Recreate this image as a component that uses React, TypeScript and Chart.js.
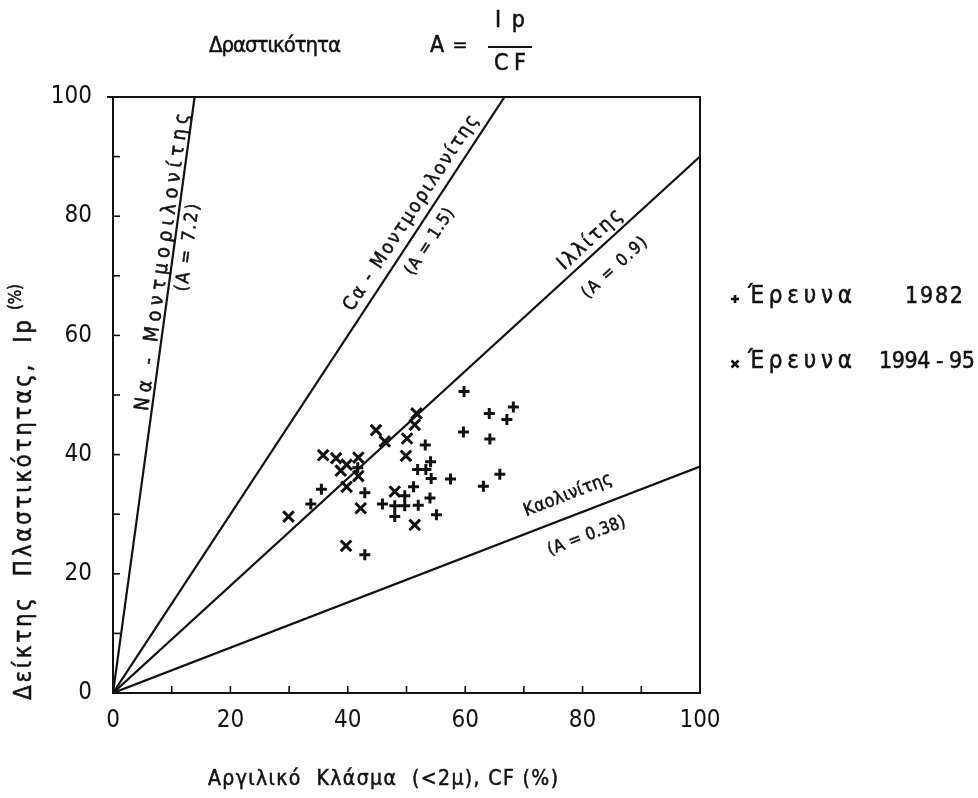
import React, { useEffect, useRef } from "react";
import { Chart, registerables } from "chart.js";

Chart.register(...registerables);

// ---- data ----
const tickValues = [0, 20, 40, 60, 80, 100];
const minorTickValues = [10, 20, 30, 40, 50, 60, 70, 80, 90];

const survey1982 = [
  { x: 59.8, y: 50.6 }, { x: 64.1, y: 46.9 }, { x: 68.2, y: 48.0 }, { x: 67.1, y: 45.9 },
  { x: 59.7, y: 43.8 }, { x: 64.2, y: 42.6 }, { x: 53.2, y: 41.6 }, { x: 54.1, y: 38.8 },
  { x: 51.9, y: 37.5 }, { x: 53.3, y: 37.5 }, { x: 54.2, y: 36.0 }, { x: 57.5, y: 35.9 },
  { x: 65.9, y: 36.7 }, { x: 63.1, y: 34.7 }, { x: 41.7, y: 37.8 }, { x: 35.5, y: 34.2 },
  { x: 33.7, y: 31.7 }, { x: 42.9, y: 33.6 }, { x: 45.9, y: 31.7 }, { x: 49.7, y: 33.1 },
  { x: 51.2, y: 34.6 }, { x: 48.0, y: 31.4 }, { x: 49.7, y: 31.4 }, { x: 52.0, y: 31.5 },
  { x: 48.0, y: 29.6 }, { x: 54.0, y: 32.7 }, { x: 55.1, y: 29.9 }, { x: 42.9, y: 23.2 },
];

const survey1994 = [
  { x: 51.7, y: 46.9 }, { x: 51.4, y: 45.0 }, { x: 44.8, y: 44.1 }, { x: 46.3, y: 42.2 },
  { x: 50.1, y: 42.7 }, { x: 49.9, y: 39.8 }, { x: 35.8, y: 39.9 }, { x: 38.0, y: 39.4 },
  { x: 39.8, y: 38.3 }, { x: 41.8, y: 39.5 }, { x: 38.8, y: 37.3 }, { x: 41.8, y: 36.4 },
  { x: 39.8, y: 34.6 }, { x: 29.9, y: 29.6 }, { x: 42.2, y: 31.0 }, { x: 48.0, y: 33.8 },
  { x: 39.7, y: 24.7 }, { x: 51.4, y: 28.2 },
];

// activity lines Ip = A * CF (end points)
const naLine = [{ x: 0, y: 0 }, { x: 13.9, y: 100 }];
const caLine = [{ x: 0, y: 0 }, { x: 66.7, y: 100 }];
const illiteLine = [{ x: 0, y: 0 }, { x: 100, y: 90 }];
const kaoliniteLine = [{ x: 0, y: 0 }, { x: 100, y: 38 }];

const lineLabels = [
  { line: naLine, text: "Να - Μοντμοριλονίτης", at: { x: 8.5, y: 72.3 }, len: 300, size: 20 },
  { line: naLine, text: "(A = 7.2)", at: { x: 12.8, y: 74.7 }, len: 88, size: 18 },
  { line: caLine, text: "Cα - Μοντμοριλονίτης", at: { x: 50.8, y: 80.5 }, len: 230, size: 19 },
  { line: caLine, text: "(A = 1.5)", at: { x: 54.0, y: 75.7 }, len: 76, size: 17 },
  { line: illiteLine, text: "Ιλλίτης", at: { x: 81.3, y: 76.0 }, len: 80, size: 20 },
  { line: illiteLine, text: "(A = 0.9)", at: { x: 85.5, y: 71.3 }, len: 82, size: 17 },
  { line: kaoliniteLine, text: "Καολινίτης", at: { x: 77.5, y: 33.2 }, len: 93, size: 18 },
  { line: kaoliniteLine, text: "(A = 0.38)", at: { x: 80.7, y: 26.3 }, len: 82, size: 17 },
];

const legendItems = [
  { marker: "cross", label: "Έρευνα", year: "1982" },
  { marker: "crossRot", label: "Έρευνα", year: "1994 - 95" },
];

const FONT = "'DejaVu Sans Condensed', 'DejaVu Sans', sans-serif";
const INK = "#111";

function drawFit(ctx: CanvasRenderingContext2D, text: string, cx: number, cy: number, angle: number, size: number, target: number) {
  ctx.save();
  ctx.font = `${size}px ${FONT}`;
  (ctx as any).letterSpacing = "0px";
  const w = ctx.measureText(text).width;
  const n = Math.max(1, text.length - 1);
  let ls = (target - w) / n;
  if (ls < -1.5) ls = -1.5;
  (ctx as any).letterSpacing = `${ls}px`;
  const w2 = ctx.measureText(text).width;
  ctx.translate(cx, cy);
  ctx.rotate(angle);
  ctx.textAlign = "left";
  ctx.textBaseline = "middle";
  ctx.fillStyle = INK;
  ctx.strokeStyle = INK;
  ctx.lineWidth = 0.5;
  ctx.fillText(text, -w2 / 2 + ls / 2, 0);
  ctx.strokeText(text, -w2 / 2 + ls / 2, 0);
  ctx.restore();
}

function drawMarker(ctx: CanvasRenderingContext2D, kind: string, x: number, y: number, r: number) {
  ctx.beginPath();
  if (kind === "cross") {
    ctx.moveTo(x - r, y); ctx.lineTo(x + r, y);
    ctx.moveTo(x, y - r); ctx.lineTo(x, y + r);
  } else {
    ctx.moveTo(x - r, y - r); ctx.lineTo(x + r, y + r);
    ctx.moveTo(x - r, y + r); ctx.lineTo(x + r, y - r);
  }
  ctx.stroke();
}

const decorPlugin = {
  id: "decor",
  afterDraw(chart: any) {
    const { ctx, chartArea: a } = chart;
    const xs = chart.scales.x;
    const ys = chart.scales.y;
    ctx.save();
    ctx.strokeStyle = INK;
    ctx.lineWidth = 2;
    ctx.strokeRect(a.left, a.top, a.right - a.left, a.bottom - a.top);
    ctx.beginPath(); ctx.moveTo(a.left - 6, a.top); ctx.lineTo(a.left, a.top); ctx.stroke();
    ctx.lineWidth = 1.6;
    for (const v of minorTickValues) {
      const px = xs.getPixelForValue(v);
      ctx.beginPath(); ctx.moveTo(px, a.bottom); ctx.lineTo(px, a.bottom - 7); ctx.stroke();
      const py = ys.getPixelForValue(v);
      ctx.beginPath(); ctx.moveTo(a.left, py); ctx.lineTo(a.left + 7, py); ctx.stroke();
    }

    // line labels
    for (const L of lineLabels) {
      const p0 = { x: xs.getPixelForValue(L.line[0].x), y: ys.getPixelForValue(L.line[0].y) };
      const p1 = { x: xs.getPixelForValue(L.line[1].x), y: ys.getPixelForValue(L.line[1].y) };
      const ang = Math.atan2(p1.y - p0.y, p1.x - p0.x);
      drawFit(ctx, L.text, xs.getPixelForValue(L.at.x), ys.getPixelForValue(L.at.y), ang, L.size, L.len);
    }

    // top title
    drawFit(ctx, "Δραστικότητα", 275, 46, 0, 22, 132);
    drawFit(ctx, "A", 437, 46, 0, 23, 14);
    drawFit(ctx, "=", 460, 46, 0, 20, 10);
    drawFit(ctx, "Ip", 510, 21, 0, 23, 30);
    drawFit(ctx, "CF", 510, 64, 0, 23, 32);
    ctx.lineWidth = 1.8;
    ctx.beginPath(); ctx.moveTo(488, 47); ctx.lineTo(532, 47); ctx.stroke();

    // axis titles
    drawFit(ctx, "Αργιλικό  Κλάσμα  (<2μ), CF (%)", 383, 780, 0, 21, 350);
    drawFit(ctx, "Δείκτης  Πλαστικότητας,  Ip", 25, 510, -Math.PI / 2, 24, 380);
    drawFit(ctx, "(%)", 17, 297, -Math.PI / 2, 17, 26);

    // legend
    ctx.lineWidth = 2.6;
    const rows = [297, 362];
    legendItems.forEach((it, i) => {
      const y = rows[i];
      drawMarker(ctx, it.marker, 735, y + 2, it.marker === "cross" ? 4 : 3.5);
      drawFit(ctx, it.label, 800, y, 0, 24, 104);
      if (i === 0) drawFit(ctx, it.year, 934, y, 0, 23, 58);
      else drawFit(ctx, it.year, 927, y, 0, 23, 96);
    });
    ctx.restore();
  },
};

export default function App() {
  const ref = useRef<HTMLCanvasElement | null>(null);
  useEffect(() => {
    const canvas = ref.current;
    if (!canvas) return;
    const lineDs = (data: any[]) => ({
      type: "line" as const,
      data,
      borderColor: INK,
      borderWidth: 2.2,
      pointRadius: 0,
      fill: false,
      tension: 0,
    });
    const chart = new Chart(canvas, {
      type: "scatter",
      data: {
        datasets: [
          lineDs(naLine), lineDs(caLine), lineDs(illiteLine), lineDs(kaoliniteLine),
          {
            label: "Έρευνα 1982",
            data: survey1982,
            pointStyle: "cross",
            pointRadius: 5.5,
            borderColor: INK,
            backgroundColor: INK,
            pointBorderWidth: 3,
          },
          {
            label: "Έρευνα 1994 - 95",
            data: survey1994,
            pointStyle: "crossRot",
            pointRadius: 7.5,
            borderColor: INK,
            backgroundColor: INK,
            pointBorderWidth: 3,
          },
        ] as any,
      },
      options: {
        animation: false,
        responsive: false,
        maintainAspectRatio: false,
        layout: { padding: { top: 97, right: 278, left: 0, bottom: 0 } },
        plugins: { legend: { display: false }, tooltip: { enabled: false }, title: { display: false } },
        scales: {
          x: {
            type: "linear",
            min: 0,
            max: 100,
            afterFit: (s: any) => { s.height = 105; },
            afterBuildTicks: (s: any) => { s.ticks = tickValues.map((v) => ({ value: v })); },
            grid: { display: false, drawTicks: false },
            border: { display: false },
            ticks: { color: INK, padding: 13, font: { family: FONT, size: 24 }, maxRotation: 0 },
          },
          y: {
            type: "linear",
            min: 0,
            max: 100,
            afterFit: (s: any) => { s.width = 113; },
            afterBuildTicks: (s: any) => { s.ticks = tickValues.map((v) => ({ value: v })); },
            grid: { display: false, drawTicks: false },
            border: { display: false },
            ticks: { color: INK, padding: 21, font: { family: FONT, size: 24 } },
          },
        },
      },
      plugins: [decorPlugin],
    });
    return () => chart.destroy();
  }, []);
  return (
    <div style={{ position: "absolute", left: 0, top: 0, width: 978, height: 798, background: "#fff" }}>
      <canvas ref={ref} width={978} height={798} style={{ display: "block" }} />
    </div>
  );
}
